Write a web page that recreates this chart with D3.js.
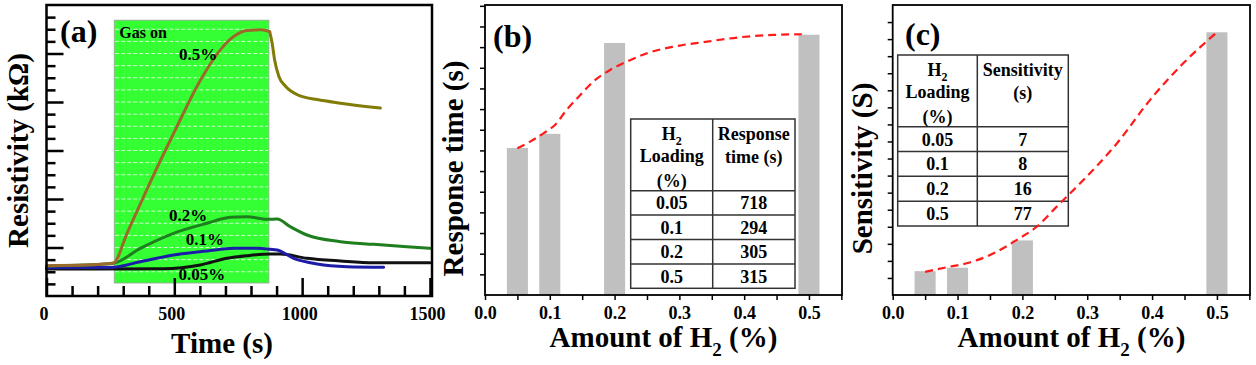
<!DOCTYPE html>
<html><head><meta charset="utf-8">
<script src="https://cdn.jsdelivr.net/npm/d3@7"></script>
<style>
body{margin:0;background:#fff;}
svg{display:block;font-family:"Liberation Serif","Times New Roman",serif;font-weight:bold;}
svg text{font-family:"Liberation Serif","Times New Roman",serif;}
</style>
</head><body>
<svg id="chart" width="1256" height="365"></svg>
<script>
// ---------------- data ----------------
// panel (a): resistivity transients (time s, resistivity arbitrary kΩ units)
const timeTicks = [0, 500, 1000, 1500];
const gasOnWindow = [265, 870];
const gasOnLevels = [1.07, 22.75];
const curve05Rise = [[0,2.5],[150,2.55],[262,2.72],[315,5.17],[406,9.4],[497,13.4],[602,17.8],[680,20.3],[732,21.4],[785,21.9],[840,21.95],[873,21.8]];
const curve05Decay = [[873,21.8],[883,20.8],[892,19.5],[909,18.1],[935,17.3],[981,16.6],[1059,16.2],[1150,15.9],[1306,15.5]];
const curve02 = [[0,2.47],[150,2.55],[262,2.7],[367,3.93],[497,5.17],[628,6.0],[719,6.49],[784,6.54],[863,6.32],[902,6.35],[954,5.71],[1019,5.03],[1150,4.48],[1280,4.26],[1410,4.06],[1500,3.93]];
const curve01 = [[0,2.33],[150,2.35],[262,2.38],[367,2.83],[497,3.38],[628,3.71],[732,3.93],[823,3.93],[875,3.85],[902,3.79],[967,3.11],[1059,2.64],[1176,2.42],[1319,2.37]];
const curve005 = [[0,2.23],[200,2.23],[458,2.25],[602,2.56],[706,3.11],[784,3.32],[875,3.46],[915,3.46],[1019,3.11],[1150,2.89],[1280,2.75],[1500,2.75]];
const curveNames = ["0.5%", "0.2%", "0.1%", "0.05%"];

// panels (b) and (c)
const amountTicks = [0, 0.1, 0.2, 0.3, 0.4, 0.5];
const loadings = [0.05, 0.1, 0.2, 0.5];
const responseTime = [178, 195, 305, 315];
const sensitivity = [7, 8, 16, 77];
const responseFit = [[0.05,177.6],[0.0696,185.6],[0.0901,195.7],[0.108,205.8],[0.126,224],[0.147,242],[0.167,258.2],[0.193,272.4],[0.219,282.5],[0.25,292.6],[0.291,300.6],[0.343,306.7],[0.394,312],[0.446,314.8],[0.489,315.6]];
const sensitivityFit = [[0.05,6.8],[0.088,8.3],[0.114,9.3],[0.15,11.7],[0.191,16.1],[0.222,20.0],[0.253,25.9],[0.294,33.7],[0.346,44.5],[0.397,57.2],[0.448,67.9],[0.5,77.0]];
const tableLoading = ["0.05", "0.1", "0.2", "0.5"];
const tableResponse = ["718", "294", "305", "315"];
const tableSensitivity = ["7", "8", "16", "77"];

// ---------------- drawing ----------------
const FONT = '"Liberation Serif","Times New Roman",serif';
const svg = d3.select("#chart");
svg.append("rect").attr("width",1256).attr("height",365).attr("fill","#fff");

function label(g, x, y, s, size, anchor) {
  return g.append("text").attr("x",x).attr("y",y).attr("font-size",size).attr("font-family",FONT)
    .attr("font-weight","bold").attr("text-anchor",anchor||"middle").attr("fill","#000").text(s);
}
function yTitle(g, x, y, s) {
  return g.append("text").attr("transform",`translate(${x},${y}) rotate(-90)`).attr("font-family",FONT)
    .attr("font-weight","bold").attr("text-anchor","middle").attr("font-size",29).attr("fill","#000").text(s);
}
function h2Title(g, cx, y) {
  const t = g.append("text").attr("x",cx).attr("y",y).attr("text-anchor","middle").attr("font-family",FONT)
    .attr("font-weight","bold").attr("font-size",29).attr("fill","#000");
  t.append("tspan").text("Amount of H");
  t.append("tspan").attr("dy",9).attr("font-size",19).text("2");
  t.append("tspan").attr("dy",-9).text(" (%)");
}
function styleAxis(a, w) {
  a.attr("font-family",FONT).attr("font-size",18).attr("font-weight","bold");
  a.select(".domain").remove();
  a.selectAll(".tick line").attr("stroke","#000").attr("stroke-width",w);
  a.selectAll("text").attr("fill","#000");
}

// ===== Panel (a) =====
const A = {l:46.5, r:432, t:5, b:296};
const xA = d3.scaleLinear().domain([0,1508]).range([A.l, A.r]);
const yA = d3.scaleLinear().domain([0,24]).range([A.b, A.t]);
const gA = svg.append("g");

gA.append("rect").attr("x",xA(gasOnWindow[0])).attr("y",yA(gasOnLevels[1]))
  .attr("width",xA(gasOnWindow[1])-xA(gasOnWindow[0]))
  .attr("height",yA(gasOnLevels[0])-yA(gasOnLevels[1]))
  .attr("fill","#33ff33").attr("stroke","#a0a0a0").attr("stroke-width",0.8);
d3.range(2,23).forEach(v=>{
  gA.append("line").attr("x1",xA(gasOnWindow[0])+1).attr("x2",xA(gasOnWindow[1])-1)
    .attr("y1",yA(v)).attr("y2",yA(v)).attr("stroke","#ffffff").attr("stroke-opacity",0.75)
    .attr("stroke-width",1).attr("stroke-dasharray","4,2");
});

const lineA = d3.line().x(d=>xA(d[0])).y(d=>yA(d[1])).curve(d3.curveMonotoneX);
[[curve005,"#111111"],[curve01,"#1c1ca8"],[curve02,"#1f7f1f"],[curve05Decay,"#807c05"],[curve05Rise,"#9b6a2b"]]
  .forEach(([c,col])=>{
    gA.append("path").attr("d",lineA(c)).attr("fill","none").attr("stroke",col)
      .attr("stroke-width",3).attr("stroke-linejoin","round").attr("stroke-linecap","round");
  });

label(gA, xA(285), yA(21.8)+6, "Gas on", 16, "start");
label(gA, xA(593), yA(20.0)+6, curveNames[0], 17);
label(gA, xA(554), yA(6.68)+6, curveNames[1], 17);
label(gA, xA(620), yA(4.7)+6, curveNames[2], 17);
label(gA, xA(608), yA(1.8)+6, curveNames[3], 17);

// axes (a) – ticks inward
const axA1 = gA.append("g").attr("transform",`translate(0,${A.b})`)
  .call(d3.axisBottom(xA).tickValues(timeTicks).tickSizeInner(-18).tickSizeOuter(0).tickPadding(11).tickFormat(d3.format("d")));
const axA2 = gA.append("g").attr("transform",`translate(0,${A.b})`)
  .call(d3.axisBottom(xA).tickValues(d3.range(100,1501,100).filter(v=>v%500)).tickSizeInner(-10).tickSizeOuter(0).tickFormat(""));
const axA3 = gA.append("g").attr("transform",`translate(${A.l},0)`)
  .call(d3.axisLeft(yA).tickValues(d3.range(4,24,4)).tickSizeInner(-17).tickSizeOuter(0).tickFormat(""));
const axA4 = gA.append("g").attr("transform",`translate(${A.l},0)`)
  .call(d3.axisLeft(yA).tickValues(d3.range(1,24).filter(v=>v%4)).tickSizeInner(-9).tickSizeOuter(0).tickFormat(""));
[axA1,axA2,axA3,axA4].forEach(a=>styleAxis(a,2.5));
axA1.selectAll("text").attr("dx",-3);
gA.append("rect").attr("x",A.l).attr("y",A.t).attr("width",A.r-A.l).attr("height",A.b-A.t)
  .attr("fill","none").attr("stroke","#000").attr("stroke-width",2.5);
label(gA, 60, 42, "(a)", 32, "start");
yTitle(gA, 28, 150.5, "Resistivity (kΩ)");
label(gA, 222, 353, "Time (s)", 29);

// ===== bar panels =====
function barPanel(opt) {
  const P = opt.box;
  const g = svg.append("g");
  const x = d3.scaleLinear().domain([0,0.551]).range([P.l, P.r]);
  const y = d3.scaleLinear().domain([0,opt.ymax]).range([P.b, P.t]);
  const bw = x(0.0325) - x(0);
  g.selectAll("rect.bar").data(loadings).join("rect").attr("class","bar")
    .attr("x",d=>x(d)-bw/2).attr("width",bw)
    .attr("y",(d,i)=>y(opt.values[i])).attr("height",(d,i)=>y(0)-y(opt.values[i]))
    .attr("fill","#c0c0c0");

  // table
  const T = opt.table;
  const tg = g.append("g").attr("stroke","#333").attr("stroke-width",1.5).attr("fill","none");
  tg.append("rect").attr("x",T.x0).attr("y",T.top).attr("width",T.x1-T.x0).attr("height",T.bottom-T.top);
  tg.append("line").attr("x1",T.xd).attr("x2",T.xd).attr("y1",T.top).attr("y2",T.bottom);
  const rowH = (T.bottom-T.head)/4;
  d3.range(4).forEach(i=>{
    tg.append("line").attr("x1",T.x0).attr("x2",T.x1).attr("y1",T.head+i*rowH).attr("y2",T.head+i*rowH);
  });
  const c1 = (T.x0+T.xd)/2, c2 = (T.xd+T.x1)/2;
  const fs = 18;
  const h = g.append("text").attr("x",c1).attr("y",T.top+21).attr("text-anchor","middle")
    .attr("font-family",FONT).attr("font-weight","bold").attr("font-size",fs);
  h.append("tspan").text("H");
  h.append("tspan").attr("dy",5).attr("font-size",12).text("2");
  label(g, c1, T.top+43, "Loading", fs);
  label(g, c1, T.top+68, "(%)", fs);
  label(g, c2, T.top+21, opt.head2[0], fs);
  label(g, c2, T.top+44, opt.head2[1], fs);
  tableLoading.forEach((s,i)=>{
    const cy = T.head + (i+0.5)*rowH + 6.5;
    label(g, c1, cy, s, fs);
    label(g, c2, cy, opt.tableVals[i], fs);
  });

  // fitted dashed curve
  const ln = d3.line().x(d=>x(d[0])).y(d=>y(d[1])).curve(d3.curveMonotoneX);
  g.append("path").attr("d",ln(opt.fit)).attr("fill","none").attr("stroke","#ff1a1a")
    .attr("stroke-width",2.2).attr("stroke-dasharray","8,5");

  // axes (outward ticks)
  const a1 = g.append("g").attr("transform",`translate(0,${P.b})`)
    .call(d3.axisBottom(x).tickValues(amountTicks).tickSizeInner(5).tickSizeOuter(0).tickPadding(6).tickFormat(d3.format(".1f")));
  const a2 = g.append("g").attr("transform",`translate(0,${P.b})`)
    .call(d3.axisBottom(x).tickValues([0.05,0.15,0.25,0.35,0.45,0.55]).tickSizeInner(5).tickSizeOuter(0).tickFormat(""));
  const a3 = g.append("g").attr("transform",`translate(${P.l},0)`)
    .call(d3.axisLeft(y).tickValues(d3.range(opt.ystep, opt.ymax, opt.ystep)).tickSizeInner(5).tickSizeOuter(0).tickFormat(""));
  [a1,a2,a3].forEach(a=>styleAxis(a,1.5));
  g.append("rect").attr("x",P.l).attr("y",P.t).attr("width",P.r-P.l).attr("height",P.b-P.t)
    .attr("fill","none").attr("stroke","#000").attr("stroke-width",1.8);
  label(g, opt.tag[1], opt.tag[2], opt.tag[0], 32, "start");
  yTitle(g, opt.ytx, 168.5, opt.ytitle);
  h2Title(g, opt.xtc, 347);
}

barPanel({
  box:{l:485, r:842, t:5, b:295}, ymax:351, ystep:25, values:responseTime, fit:responseFit,
  table:{x0:630.7, x1:795, xd:712.7, top:119, head:190.7, bottom:288.3},
  head2:["Response","time (s)"], tableVals:tableResponse,
  tag:["(b)",493,47], ytx:463, ytitle:"Response time (s)", xtc:663.5
});
barPanel({
  box:{l:892.7, r:1250, t:5, b:295}, ymax:85, ystep:5, values:sensitivity, fit:sensitivityFit,
  table:{x0:897.7, x1:1068.3, xd:977.3, top:55, head:126.7, bottom:226},
  head2:["Sensitivity","(s)"], tableVals:tableSensitivity,
  tag:["(c)",905,45], ytx:872, ytitle:"Sensitivity (S)", xtc:1071.5
});
</script>
</body></html>
